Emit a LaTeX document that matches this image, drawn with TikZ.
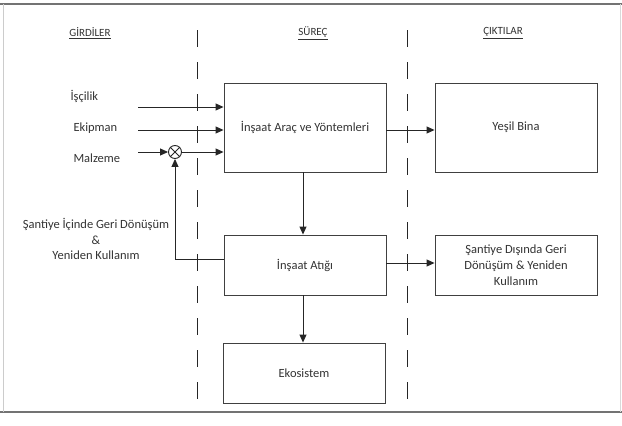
\documentclass[tikz,border=0pt]{standalone}
\usepackage{fontspec}
\setmainfont{Carlito}
\usetikzlibrary{arrows.meta}
\begin{document}
\begin{tikzpicture}[x=1pt,y=-1pt,
  font=\fontsize{12.5}{15.5}\selectfont,
  every node/.style={text=black!80},
  procbox/.style={draw=black!75,line width=0.9pt,minimum width=162pt,minimum height=#1,inner sep=2pt,align=center},
  procbox/.default=89pt,
  flow/.style={draw=black!85,line width=0.9pt,-{Triangle[length=8pt,width=7pt]}},
  sep/.style={draw=black!85,line width=0.9pt,dash pattern=on 17pt off 15pt},
  heading/.style={font=\fontsize{11}{13}\selectfont}]
\useasboundingbox (0,0) rectangle (622,426);
% outer frame
\draw[black!55,line width=2pt] (0,4) -- (622,4);
\draw[black!55,line width=2pt] (0,412) -- (622,412);
\draw[black!20,line width=1pt] (3,4) -- (3,412);
\draw[black!15,line width=1pt] (620,4) -- (620,412);

% column headings
\node[heading] (hin)  at (90,33)  {\underline{GİRDİLER}};
\node[heading] (hpro) at (313,33) {\underline{SÜREÇ}};
\node[heading] (hout) at (503,33) {\underline{ÇIKTILAR}};

% column separators
\coordinate (s1t) at (197,30);
\coordinate (s1b) at (197,410);
\coordinate (s2t) at (407,30);
\coordinate (s2b) at (407,410);
\draw[sep] (s1t) -- (s1b);
\draw[sep] (s2t) -- (s2b);

% process boxes
\node[procbox] (arac)  at (305,127.5) {İnşaat Araç ve Yöntemleri};
\node[procbox] (yesil) at (516,127.5) {Yeşil Bina};
\node[procbox=60pt] (atik)  at (305,265) {İnşaat Atığı};
\node[procbox=60pt,font=\fontsize{12.5}{16}\selectfont] (disi) at (516,265) {Şantiye Dışında Geri\\Dönüşüm \& Yeniden\\Kullanım};
\node[procbox=60pt] (eko)   at (304,373) {Ekosistem};

% inputs
\node[anchor=west] (iscilik) at (67,96)  {İşçilik};
\node[anchor=west] (ekipman) at (70,128) {Ekipman};
\node[anchor=west] (malzeme) at (70,158) {Malzeme};
\coordinate (a1) at (138,107);
\coordinate (a2) at (138,130);
\coordinate (a3) at (138,152);
\node[draw=black!85,line width=0.9pt,circle,minimum size=13pt,inner sep=0pt] (mix) at (175,152) {};
\draw[black!85,line width=0.9pt] (mix.north west) -- (mix.south east)
                                 (mix.north east) -- (mix.south west);

\draw[flow] (a1) -- (arac.west |- a1);
\draw[flow] (a2) -- (arac.west |- a2);
\draw[flow] (a3) -- (mix.west);
\draw[flow] (mix.east) -- (arac.west |- mix);

% on-site recycling loop
\node[align=center] (icinde) at (96,239) {Şantiye İçinde Geri Dönüşüm\\\&\\Yeniden Kullanım};
\coordinate (loop) at (224,259);
\draw[flow] (loop) -| (mix.south);

% process flow
\draw[flow] (arac.east |- 0,130) -- (yesil.west |- 0,130);
\draw[flow] (arac.south -| 303,0) -- (atik.north -| 303,0);
\draw[flow] (atik.east |- 0,263) -- (disi.west |- 0,263);
\draw[flow] (atik.south -| 303,0) -- (eko.north -| 303,0);
\end{tikzpicture}
\end{document}
